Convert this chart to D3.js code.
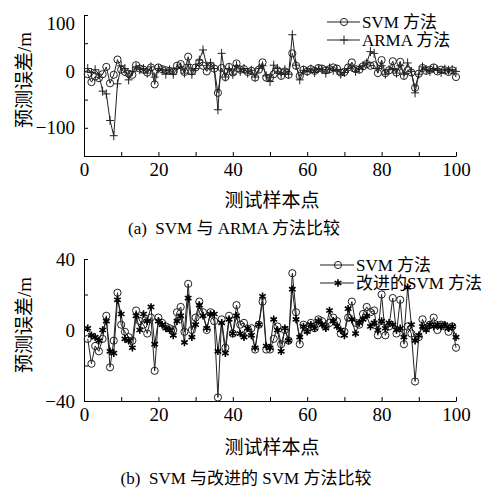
<!DOCTYPE html>
<html><head><meta charset="utf-8">
<script src="https://cdn.jsdelivr.net/npm/d3@7"></script>
<style>
body{margin:0;background:#fff;}
text{font-family:"Liberation Serif","Times New Roman","Noto Sans CJK SC",serif;fill:#000;}
</style></head>
<body><svg id="c" width="489" height="490"></svg>
<script>
// sample index 1..100
const samples = d3.range(1, 101);
// SVM prediction error (m)
const svmErr = [-5,-19,-9,-12,-5,8,-21,-6,21,3,
  -1,-4,-6,11,5,3,-2,7,-23,7,
  4,2,1,0,10,13,-1,26,0,7,
  16,10,0,10,5,-38,6,-10,8,-2,
  14,3,4,-1,1,-11,3,16,-11,-11,
  -5,2,-8,0,-6,32,10,-8,3,0,
  4,1,6,5,2,4,7,5,-2,-1,
  7,16,4,3,9,13,10,11,-3,20,
  -3,2,18,-2,17,-8,2,-2,-29,-4,
  6,1,3,7,0,3,2,-1,2,-10];
// ARMA prediction error (m)
const armaErr = [5,-2,3,-5,-35,-40,-87,-114,-22,10,
  5,-15,0,8,3,5,-3,8,-10,5,
  2,-5,3,-5,5,8,-3,12,-5,5,
  20,38,10,15,5,-68,32,-10,5,-5,
  10,0,5,-3,2,-10,5,10,-8,-18,
  11,5,-5,3,-5,65,11,-15,2,0,
  4,-2,5,3,-3,6,2,3,-5,-2,
  5,8,0,5,10,15,35,32,5,10,
  -5,3,5,-3,10,-5,15,0,-38,-5,
  8,3,0,5,3,-2,4,2,3,0];
// improved SVM prediction error (m)
const impErr = [1,-3,-4,-6,0,5,-12,-13,17,9,
  -5,-6,-10,8,0,9,5,13,-8,5,
  3,1,0,-3,5,8,-7,18,-4,3,
  14,8,1,9,9,-12,4,-13,6,-2,
  8,-2,-4,1,-3,-10,3,19,-9,-10,
  6,0,-12,1,-6,23,6,-4,2,-1,
  3,1,5,3,1,11,5,2,0,-3,
  12,6,-2,4,6,8,2,4,0,5,
  1,4,3,0,1,-4,24,3,-6,-3,
  2,0,3,2,3,2,3,1,2,-4];

const xTicks = d3.range(0, 101, 10);
const xLabels = [0, 20, 40, 60, 80, 100];
const topYTicks = [-150, -100, -50, 0, 50, 100];
const topYLabels = [-100, 0, 100];
const botYTicks = [-40, -20, 0, 20, 40];
const botYLabels = [-40, 0, 40];

const yTitle = "预测误差/m";
const xTitle = "测试样本点";
const capA = "(a)  SVM 与 ARMA 方法比较";
const capB = "(b)  SVM 与改进的 SVM 方法比较";
const legA = ["SVM 方法", "ARMA 方法"];
const legB = ["SVM 方法", "改进的SVM 方法"];

const svg = d3.select("#c");
const fmt = d3.format("d");
const ink = "#222";

const circleSym = g => g.append("circle").attr("r", 3.6).attr("fill", "none").attr("stroke", ink).attr("stroke-width", 1);
const plusSym = g => g.append("path").attr("d", "M-4,0H4M0,-4.5V4.5").attr("stroke", ink).attr("stroke-width", 1).attr("fill", "none");
const starSym = g => g.append("path").attr("d", "M0,-3.8V3.8M-3.3,-1.9L3.3,1.9M-3.3,1.9L3.3,-1.9").attr("stroke", "#000").attr("stroke-width", 1.6).attr("fill", "none");

function panel(opt) {
  const x = d3.scaleLinear().domain([0, 100]).range([84, 456]);
  const y = d3.scaleLinear().domain(opt.yDomain).range([opt.bottom, opt.top]);
  const g = svg.append("g");

  // axes
  const ax = g.append("g").attr("transform", `translate(0,${opt.bottom})`)
    .call(d3.axisBottom(x).tickValues(xTicks).tickSizeInner(-4).tickSizeOuter(0).tickPadding(7)
      .tickFormat(d => xLabels.includes(d) ? fmt(d) : ""));
  const ay = g.append("g").attr("transform", `translate(84,0)`)
    .call(d3.axisLeft(y).tickValues(opt.yTicks).tickSizeInner(-4).tickSizeOuter(0).tickPadding(9)
      .tickFormat(d => opt.yLabels.includes(d) ? fmt(d) : ""));
  [ax, ay].forEach(a => {
    a.selectAll("path,line").attr("stroke", "#000").attr("stroke-width", 1);
    a.selectAll("text").attr("font-size", 19).attr("fill", "#000")
      .attr("font-family", '"Liberation Serif","Times New Roman",serif');
  });
  if (opt.topLabelShift) {
    ay.selectAll(".tick").filter(d => d === opt.yDomain[1]).select("text").attr("dy", "0.75em");
  }

  const line = d3.line().x((d, i) => x(samples[i])).y(d => y(d));
  opt.series.forEach(s => {
    g.append("path").datum(s.values).attr("d", line).attr("fill", "none")
      .attr("stroke", ink).attr("stroke-width", 1);
  });
  opt.series.forEach(s => {
    g.append("g").selectAll("g").data(s.values).join("g")
      .attr("transform", (d, i) => `translate(${x(samples[i])},${y(d)})`)
      .each(function () { s.sym(d3.select(this)); });
  });

  // legend
  opt.series.forEach((s, i) => {
    const ly = opt.legY[i];
    const lg = g.append("g");
    lg.append("line").attr("x1", opt.legX0).attr("x2", opt.legX1).attr("y1", ly).attr("y2", ly)
      .attr("stroke", ink).attr("stroke-width", 1);
    const m = lg.append("g").attr("transform", `translate(${opt.legM},${ly})`);
    s.sym(m);
    lg.append("text").attr("x", opt.legX1 + 2).attr("y", ly).attr("dy", "0.34em")
      .attr("font-size", 17).text(opt.legText[i]);
  });

  // titles
  g.append("text").attr("transform", `translate(24,${opt.yTitleY}) rotate(-90)`)
    .attr("text-anchor", "middle").attr("dy", "0.35em").attr("font-size", 19).text(yTitle);
  g.append("text").attr("x", 272).attr("y", opt.xTitleY).attr("text-anchor", "middle")
    .attr("dy", "0.35em").attr("font-size", 19).text(xTitle);
  g.append("text").attr("x", opt.capX).attr("y", opt.capY).attr("text-anchor", "middle")
    .attr("dy", "0.35em").attr("font-size", 17).attr("xml:space", "preserve")
    .style("white-space", "pre").text(opt.cap);
}

panel({
  yDomain: [-150, 100], top: 15, bottom: 156,
  yTicks: topYTicks, yLabels: topYLabels, topLabelShift: true,
  series: [{values: svmErr, sym: circleSym}, {values: armaErr, sym: plusSym}],
  legX0: 327, legX1: 360, legM: 344, legY: [22, 40], legText: legA,
  yTitleY: 80, xTitleY: 200, capX: 234, capY: 228, cap: capA
});
panel({
  yDomain: [-40, 40], top: 259, bottom: 401,
  yTicks: botYTicks, yLabels: botYLabels, topLabelShift: false,
  series: [{values: svmErr, sym: circleSym}, {values: impErr, sym: starSym}],
  legX0: 320, legX1: 354, legM: 338, legY: [265, 283], legText: legB,
  yTitleY: 325, xTitleY: 447, capX: 246, capY: 478, cap: capB
});
</script></body></html>
